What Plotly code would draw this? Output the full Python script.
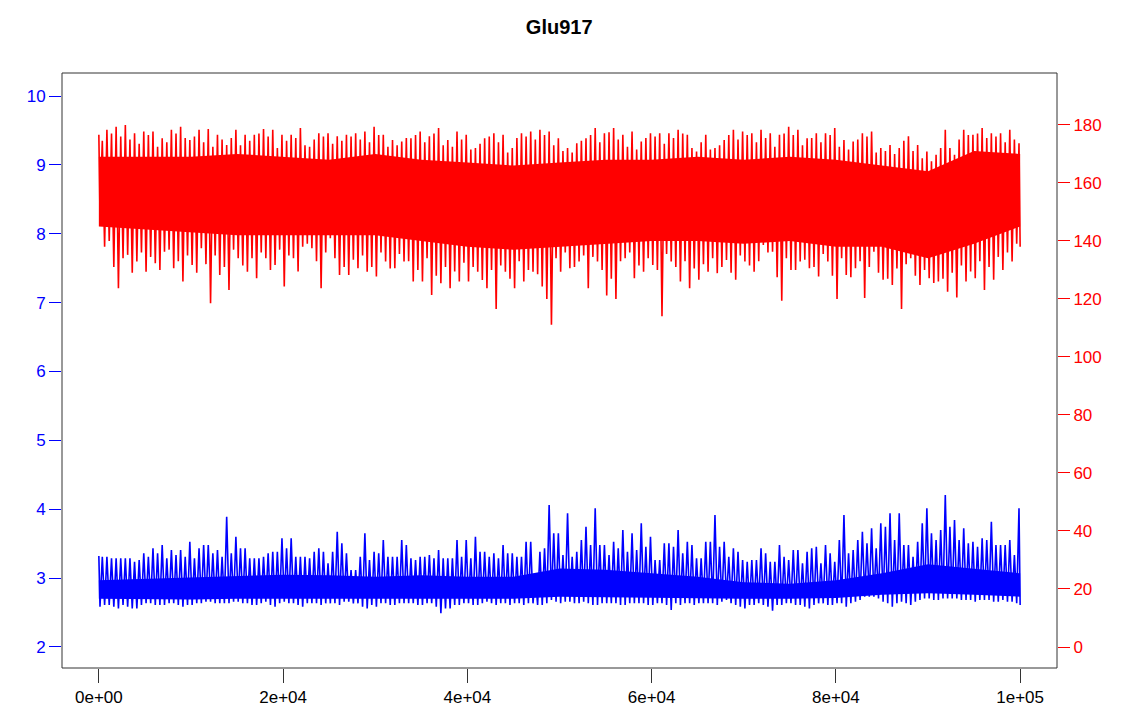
import plotly.graph_objects as go

# ---------------- data ----------------
# envelope samples every 1000 frames (at 0, 1000, ... 100000)
step_x = list(range(0, 100001, 1000))
# envelope samples between them (at 500, 1500, ... 99500)
mid_x = list(range(500, 100000, 1000))

red_hi = [176.6, 178.3, 179.4, 180.0, 177.1, 177.7, 177.7, 175.4, 178.3, 179.4,
          174.8, 178.3, 178.6, 176.6, 173.1, 178.3, 176.6, 176.6, 178.6, 178.3,
          176.6, 176.6, 178.9, 172.5, 177.1, 177.1, 176.1, 176.6, 177.1, 177.7,
          179.4, 176.6, 174.8, 174.3, 175.4, 177.7, 176.1, 178.9, 174.8, 177.7,
          176.6, 172.0, 175.4, 177.1, 176.6, 172.0, 177.1, 177.7, 178.3, 177.7,
          175.4, 172.0, 173.7, 175.4, 178.9, 177.1, 178.9, 176.6, 177.7, 174.3,
          177.1, 177.1, 177.1, 178.3, 176.6, 170.8, 176.6, 172.0, 174.8, 178.3,
          177.7, 177.1, 178.3, 177.1, 176.6, 179.4, 178.3, 175.4, 177.1, 177.1,
          178.9, 174.8, 174.3, 177.1, 177.7, 172.0, 173.1, 172.0, 176.1, 173.1,
          170.8, 169.7, 178.3, 169.7, 178.3, 176.6, 178.9, 177.1, 177.1, 178.3,
          173.7]
red_hi_mid = [174.5, 177.0, 176.0, 175.0, 173.5, 176.5, 172.5, 174.0, 177.0, 175.5,
              176.0, 174.0, 172.5, 175.0, 175.5, 173.0, 174.5, 177.0, 176.0, 172.0,
              174.5, 175.5, 173.0, 175.0, 176.0, 173.5, 174.5, 176.0, 175.0, 174.0,
              176.5, 172.5, 173.0, 175.5, 176.5, 174.0, 177.0, 173.0, 172.5, 175.0,
              171.5, 173.5, 176.0, 174.0, 170.5, 175.5, 176.0, 175.0, 176.5, 173.0,
              171.0, 170.5, 174.5, 176.5, 174.0, 177.5, 175.0, 172.5, 171.5, 175.5,
              176.0, 173.5, 175.5, 177.0, 172.0, 174.0, 171.5, 173.0, 176.5, 175.0,
              176.5, 174.0, 175.5, 172.5, 177.0, 176.5, 173.0, 175.5, 174.0, 176.5,
              172.5, 171.5, 175.0, 176.0, 170.5, 171.0, 170.0, 174.5, 171.0, 168.5,
              167.5, 172.0, 172.0, 175.0, 176.5, 177.0, 175.5, 176.0, 174.0, 175.0]
red_lo = [149.0, 140.0, 123.7, 135.2, 132.9, 129.4, 132.3, 136.3, 130.6, 126.0,
          131.7, 137.5, 118.5, 128.3, 123.1, 134.0, 129.4, 127.1, 134.0, 131.7,
          124.3, 134.0, 138.0, 137.5, 123.7, 140.9, 128.3, 128.3, 130.6, 129.4,
          127.7, 132.9, 130.6, 132.9, 126.0, 126.0, 121.4, 125.4, 123.7, 126.0,
          126.0, 129.4, 123.7, 116.5, 129.4, 123.7, 126.0, 129.4, 124.3, 111.1,
          129.4, 130.6, 132.9, 123.7, 132.9, 121.2, 120.0, 134.0, 127.1, 129.4,
          131.7, 114.0, 132.9, 126.0, 123.7, 126.6, 129.4, 128.9, 133.4, 126.6,
          132.9, 129.4, 138.6, 136.3, 119.4, 130.0, 132.9, 130.6, 127.7, 132.9,
          120.0, 128.3, 130.6, 120.3, 136.3, 126.6, 124.8, 116.5, 134.0, 124.8,
          127.1, 126.0, 122.5, 120.5, 126.0, 127.1, 123.1, 126.6, 130.0, 132.9,
          138.0]
red_lo_mid = [138.0, 131.0, 134.0, 129.0, 136.0, 134.5, 130.0, 137.0, 133.0, 135.0,
              129.0, 132.0, 135.0, 131.0, 137.0, 131.5, 134.0, 136.0, 130.0, 137.0,
              135.0, 129.5, 139.0, 133.0, 136.0, 134.0, 131.0, 133.5, 135.0, 131.0,
              136.0, 130.5, 135.5, 133.0, 130.0, 134.0, 128.0, 131.0, 129.5, 132.5,
              131.0, 126.5, 130.0, 131.5, 127.0, 133.0, 130.0, 128.5, 120.0, 134.0,
              136.0, 131.0, 135.0, 134.5, 130.0, 127.0, 133.0, 136.0, 131.5, 134.0,
              130.0, 135.5, 131.0, 133.0, 130.5, 132.0, 134.0, 131.0, 129.0, 135.0,
              131.5, 133.0, 136.0, 127.5, 134.0, 130.0, 133.5, 131.0, 135.5, 128.0,
              134.0, 127.5, 133.0, 131.0, 129.0, 127.0, 130.5, 132.0, 128.0, 130.0,
              125.5, 127.0, 129.0, 131.5, 129.5, 133.0, 131.0, 134.5, 136.0, 139.0]

blue_hi = [3.321, 3.311, 3.287, 3.287, 3.238, 3.360, 3.432, 3.480, 3.408, 3.408,
           3.529, 3.432, 3.480, 3.408, 3.891, 3.601, 3.432, 3.287, 3.311, 3.384,
           3.577, 3.577, 3.311, 3.287, 3.432, 3.215, 3.674, 3.360, 3.118, 3.650,
           3.384, 3.553, 3.311, 3.553, 3.287, 3.311, 3.335, 3.408, 3.287, 3.553,
           3.553, 3.601, 3.384, 3.360, 3.480, 3.360, 3.311, 3.529, 3.384, 4.061,
           3.650, 3.940, 3.384, 3.746, 4.013, 3.480, 3.529, 3.698, 3.650, 3.795,
           3.601, 3.263, 3.505, 3.698, 3.529, 3.287, 3.529, 3.916, 3.529, 3.432,
           3.263, 3.263, 3.432, 3.238, 3.480, 3.263, 3.408, 3.384, 3.456, 3.480,
           3.238, 3.916, 3.408, 3.674, 3.722, 3.795, 3.940, 3.940, 3.480, 3.529,
           4.013, 3.553, 4.206, 3.843, 3.722, 3.529, 3.577, 3.819, 3.480, 3.553,
           4.013]
blue_hi_mid = [3.311, 3.287, 3.287, 3.287, 3.263, 3.311, 3.360, 3.287, 3.335, 3.311,
               3.287, 3.480, 3.360, 3.311, 3.360, 3.432, 3.287, 3.287, 3.360, 3.384,
               3.432, 3.311, 3.311, 3.384, 3.384, 3.384, 3.505, 3.118, 3.311, 3.263,
               3.360, 3.311, 3.311, 3.480, 3.263, 3.311, 3.287, 3.287, 3.287, 3.311,
               3.287, 3.384, 3.311, 3.287, 3.360, 3.311, 3.529, 3.045, 3.432, 3.650,
               3.335, 3.311, 3.553, 3.480, 3.480, 3.335, 3.432, 3.384, 3.408, 3.456,
               3.263, 3.505, 3.456, 3.360, 3.480, 3.287, 3.529, 3.456, 3.311, 3.384,
               3.238, 3.263, 3.360, 3.238, 3.311, 3.408, 3.215, 3.432, 3.215, 3.360,
               3.553, 3.360, 3.553, 3.505, 3.432, 3.746, 3.553, 3.480, 3.311, 3.795,
               3.650, 3.698, 3.746, 3.553, 3.505, 3.456, 3.553, 3.480, 3.480, 3.335]
blue_lo = [2.585, 2.610, 2.561, 2.585, 2.561, 2.634, 2.610, 2.610, 2.634, 2.585,
           2.610, 2.634, 2.658, 2.634, 2.634, 2.658, 2.634, 2.610, 2.658, 2.585,
           2.658, 2.634, 2.585, 2.634, 2.610, 2.634, 2.610, 2.658, 2.634, 2.561,
           2.585, 2.634, 2.610, 2.634, 2.634, 2.610, 2.634, 2.489, 2.561, 2.610,
           2.634, 2.610, 2.658, 2.610, 2.634, 2.634, 2.610, 2.634, 2.610, 2.682,
           2.634, 2.658, 2.634, 2.634, 2.610, 2.634, 2.634, 2.610, 2.634, 2.634,
           2.610, 2.634, 2.537, 2.610, 2.634, 2.634, 2.634, 2.610, 2.682, 2.610,
           2.561, 2.610, 2.610, 2.527, 2.610, 2.634, 2.610, 2.561, 2.634, 2.610,
           2.634, 2.585, 2.658, 2.730, 2.730, 2.658, 2.585, 2.658, 2.610, 2.682,
           2.706, 2.682, 2.706, 2.706, 2.682, 2.658, 2.682, 2.658, 2.682, 2.658,
           2.610]
blue_lo_mid = [2.610, 2.585, 2.610, 2.561, 2.610, 2.634, 2.610, 2.634, 2.610, 2.610,
               2.634, 2.658, 2.634, 2.634, 2.658, 2.634, 2.610, 2.634, 2.610, 2.634,
               2.634, 2.610, 2.634, 2.634, 2.634, 2.634, 2.658, 2.634, 2.585, 2.610,
               2.634, 2.610, 2.634, 2.634, 2.610, 2.634, 2.585, 2.561, 2.610, 2.634,
               2.610, 2.634, 2.634, 2.634, 2.610, 2.634, 2.634, 2.610, 2.634, 2.658,
               2.658, 2.634, 2.658, 2.610, 2.634, 2.634, 2.610, 2.634, 2.634, 2.610,
               2.634, 2.610, 2.634, 2.634, 2.610, 2.634, 2.634, 2.658, 2.634, 2.585,
               2.610, 2.634, 2.585, 2.610, 2.634, 2.610, 2.585, 2.610, 2.634, 2.610,
               2.634, 2.634, 2.682, 2.730, 2.706, 2.634, 2.634, 2.634, 2.658, 2.706,
               2.682, 2.706, 2.706, 2.682, 2.682, 2.682, 2.682, 2.658, 2.658, 2.634]

# coarser grid (every 5000 frames) for the dense core of each trace
core_x = list(range(0, 100001, 5000))
red_core_hi = [169, 169, 169, 170, 169, 168, 170, 168, 167, 166, 167,
               168, 168, 169, 168, 169, 168, 166, 164, 171, 170]
red_core_lo = [145, 144, 143, 142, 142, 142, 142, 140, 138, 137, 138,
               139, 140, 140, 139, 140, 138, 138, 134, 139, 145]
blue_core_hi = [2.97, 2.99, 3.02, 3.04, 3.05, 3.04, 3.02, 3.04, 3.02, 3.02, 3.14,
                3.12, 3.07, 3.02, 2.94, 2.92, 2.97, 3.07, 3.20, 3.14, 3.07]
blue_core_lo = [2.70, 2.69, 2.69, 2.70, 2.70, 2.70, 2.70, 2.70, 2.69, 2.70, 2.73,
                2.72, 2.71, 2.71, 2.70, 2.70, 2.71, 2.76, 2.78, 2.76, 2.73]

x_ticks = [0, 20000, 40000, 60000, 80000, 100000]
x_ticklabels = ["0e+00", "2e+04", "4e+04", "6e+04", "8e+04", "1e+05"]
left_ticks = [2, 3, 4, 5, 6, 7, 8, 9, 10]
right_ticks = [0, 20, 40, 60, 80, 100, 120, 140, 160, 180]

TITLE = "Glu917"
RED = "#FF0000"
BLUE = "#0000FF"
FONT = "Liberation Sans, Arial, sans-serif"


def merge(xa, va, xb, vb):
    pts = sorted(list(zip(xa, va)) + list(zip(xb, vb)))
    return [p[0] for p in pts], [p[1] for p in pts]


def zigzag(xs, hi, lo, half=125, xmin=0, xmax=100000):
    zx, zy = [], []
    for x, h, l in zip(xs, hi, lo):
        zx.append(min(max(x - half, xmin), xmax)); zy.append(h)
        zx.append(min(max(x + half, xmin), xmax)); zy.append(l)
    return zx, zy


fig = go.Figure()

# red series (right axis)
fig.add_trace(go.Scatter(x=core_x, y=red_core_lo, mode="lines", line=dict(width=0, color=RED),
                         yaxis="y2", showlegend=False, hoverinfo="skip"))
fig.add_trace(go.Scatter(x=core_x, y=red_core_hi, mode="lines", line=dict(width=0, color=RED),
                         fill="tonexty", fillcolor=RED, yaxis="y2", showlegend=False, hoverinfo="skip"))
rxs, rhi = merge(step_x, red_hi, mid_x, red_hi_mid)
_, rlo = merge(step_x, red_lo, mid_x, red_lo_mid)
rx, ry = zigzag(rxs, rhi, rlo)
fig.add_trace(go.Scatter(x=rx, y=ry, mode="lines", line=dict(width=1.6, color=RED),
                         yaxis="y2", showlegend=False))

# blue series (left axis)
fig.add_trace(go.Scatter(x=core_x, y=blue_core_lo, mode="lines", line=dict(width=0, color=BLUE),
                         showlegend=False, hoverinfo="skip"))
fig.add_trace(go.Scatter(x=core_x, y=blue_core_hi, mode="lines", line=dict(width=0, color=BLUE),
                         fill="tonexty", fillcolor=BLUE, showlegend=False, hoverinfo="skip"))
bxs, bhi = merge(step_x, blue_hi, mid_x, blue_hi_mid)
_, blo = merge(step_x, blue_lo, mid_x, blue_lo_mid)
bx, by = zigzag(bxs, bhi, blo)
fig.add_trace(go.Scatter(x=bx, y=by, mode="lines", line=dict(width=1.6, color=BLUE),
                         showlegend=False))

fig.update_layout(
    width=1132, height=719,
    margin=dict(l=62, r=75, t=73, b=51),
    paper_bgcolor="white", plot_bgcolor="white",
    font=dict(family=FONT, size=17, color="black"),
    title=dict(text="<b>" + TITLE + "</b>", x=0.494, xanchor="center", y=0.962, yanchor="middle",
               font=dict(family=FONT, size=20, color="black")),
    xaxis=dict(range=[-4000, 104000], tickvals=x_ticks, ticktext=x_ticklabels,
               ticks="outside", ticklen=14, tickcolor="#333333", tickwidth=1,
               showgrid=False, zeroline=False, showline=False,
               tickfont=dict(size=17, color="black")),
    yaxis=dict(range=[1.695, 10.334], tickvals=left_ticks, ticks="outside", ticklen=12,
               tickcolor=BLUE, tickwidth=1, showgrid=False, zeroline=False, showline=False,
               tickfont=dict(size=17, color=BLUE)),
    yaxis2=dict(range=[-7.24, 197.9], tickvals=right_ticks, overlaying="y", side="right",
                ticks="outside", ticklen=12, tickcolor=RED, tickwidth=1,
                showgrid=False, zeroline=False, showline=False,
                tickfont=dict(size=17, color=RED)),
    shapes=[dict(type="rect", xref="paper", yref="paper", x0=0, x1=1, y0=0, y1=1,
                 line=dict(color="#333333", width=1), fillcolor="rgba(0,0,0,0)", layer="above")],
)

fig.write_html("out.html")
